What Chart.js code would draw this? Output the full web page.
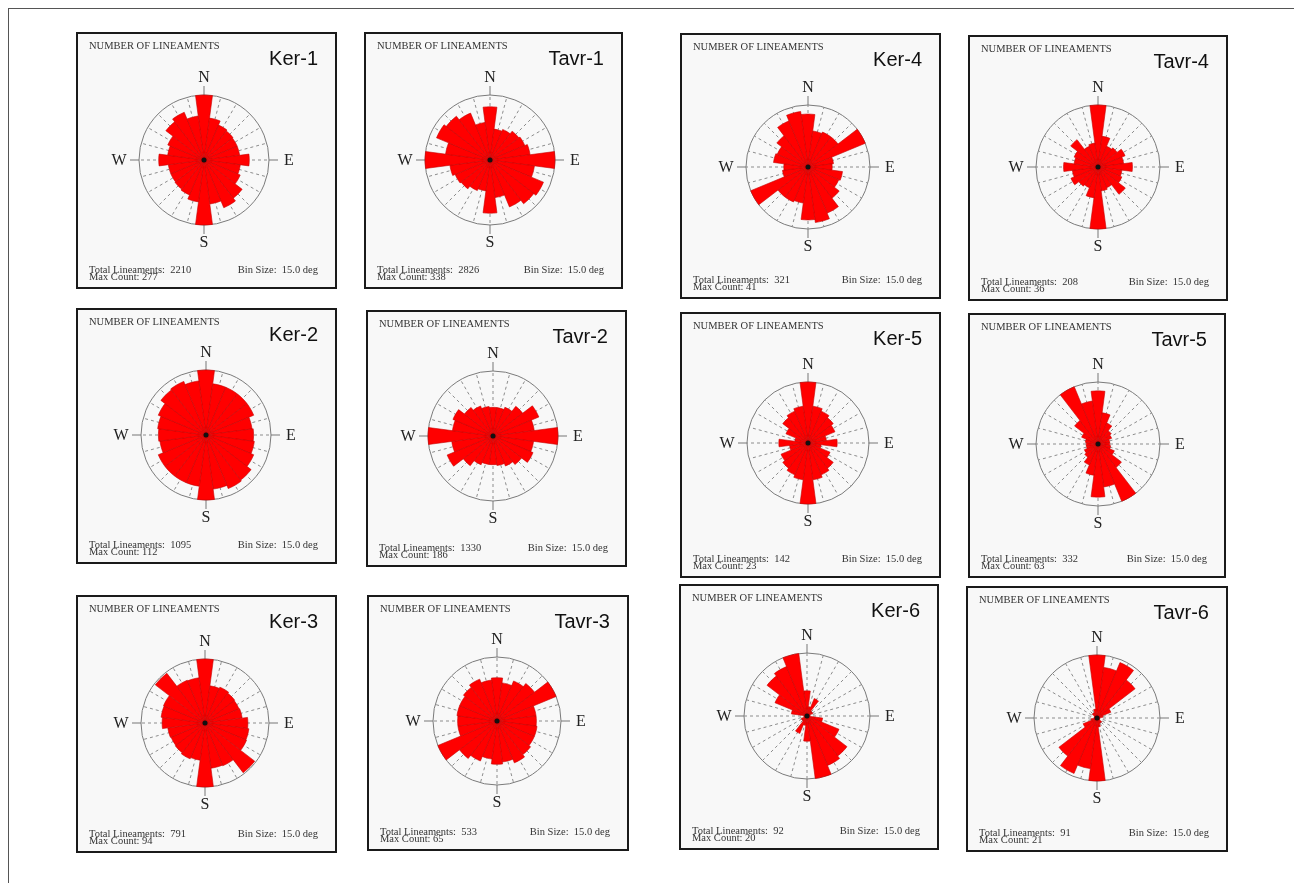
<!DOCTYPE html>
<html><head><meta charset="utf-8">
<script src="https://cdn.jsdelivr.net/npm/chart.js@4.4.1/dist/chart.umd.min.js"></script>
<style>
html,body{margin:0;padding:0;background:#fff;}
body{width:1294px;height:883px;position:relative;overflow:hidden;}
#frame{position:absolute;left:8px;top:8px;width:1310px;height:900px;border:1px solid #555;box-sizing:border-box;}
.panel{position:absolute;box-sizing:border-box;border:2px solid #1a1a1a;background:#f8f8f8;}
.panel canvas{position:absolute;left:0;top:0;}
.t{position:absolute;white-space:nowrap;font-family:"Liberation Serif","DejaVu Serif",serif;color:#333;line-height:1;}
.small{font-size:10.5px;}
.dir{font-size:16px;color:#222;transform:translate(-50%,-50%);}
.name{position:absolute;white-space:nowrap;font-family:"Liberation Sans",Arial,sans-serif;font-size:20px;line-height:1;color:#111;}
</style>
</head><body>
<div id="frame"></div>
<script>
// ---- data ----
const binAngles = [0,15,30,45,60,75,90,105,120,135,150,165,180,195,210,225,240,255,270,285,300,315,330,345];
const compassLabels = ['N','E','S','W'];
const panelNames = ['Ker-1','Tavr-1','Ker-4','Tavr-4','Ker-2','Tavr-2','Ker-5','Tavr-5','Ker-3','Tavr-3','Ker-6','Tavr-6'];
const totalLineaments = [2210,2826,321,208,1095,1330,142,332,791,533,92,91];
const maxCounts = [277,338,41,36,112,186,23,63,94,65,20,21];
const binSizeLabel = '15.0 deg';
// counts per 15-degree bin, 0..165 deg (mirrored to 180..345)
const ker1  = [277,180,161,156,153,153,193,156,167,205,220,189];
const tavr1 = [277,162,172,189,196,210,338,233,301,287,264,197];
const ker4  = [35,24,25,25,41,17,16,23,22,26,33,37];
const tavr4 = [36,18,13,14,17,15,20,14,15,20,13,14];
const ker2  = [112,89,89,89,89,80,82,84,89,98,100,94];
const tavr2 = [82,82,89,107,142,119,186,117,124,103,93,85];
const ker5  = [23,14,13,12,11,7,11,5,9,12,13,14];
const tavr5 = [54,32,23,17,15,12,12,13,18,30,63,44];
const ker3  = [94,55,57,55,54,55,63,65,66,92,68,67];
const tavr3 = [44,39,44,48,65,40,40,41,41,43,46,42];
const ker6  = [8,3,6,2,2,1,1,5,11,16,17,20];
const tavr6 = [21,17,20,16,5,2,1,1,1,2,2,3];
const seriesList = [ker1,tavr1,ker4,tavr4,ker2,tavr2,ker5,tavr5,ker3,tavr3,ker6,tavr6];

// ---- layout (panel boxes, circle centre offsets and radius) ----
const layout = [
 {L:76, T:32, W:261,H:257,ox:128,oy:128,R:65},
 {L:364,T:32, W:259,H:257,ox:126,oy:128,R:65},
 {L:680,T:33, W:261,H:266,ox:128,oy:134,R:62},
 {L:968,T:35, W:260,H:266,ox:130,oy:132,R:62},
 {L:76, T:308,W:261,H:256,ox:130,oy:127,R:65},
 {L:366,T:310,W:261,H:257,ox:127,oy:126,R:65},
 {L:680,T:312,W:261,H:266,ox:128,oy:131,R:61},
 {L:968,T:313,W:258,H:265,ox:130,oy:131,R:62},
 {L:76, T:595,W:261,H:258,ox:129,oy:128,R:64},
 {L:367,T:595,W:262,H:256,ox:130,oy:126,R:64},
 {L:679,T:584,W:260,H:266,ox:128,oy:132,R:63},
 {L:966,T:586,W:262,H:266,ox:131,oy:132,R:63}
];

const rosePlugin = {
  id:'rose',
  beforeDatasetsDraw(chart){
    const s = chart.scales.r, ctx = chart.ctx;
    const cx = s.xCenter, cy = s.yCenter, R = s.drawingArea;
    ctx.save();
    ctx.strokeStyle = '#8c8c8c'; ctx.lineWidth = 1; ctx.setLineDash([3,3]);
    binAngles.forEach(a => {
      const t = (a-90)*Math.PI/180;
      ctx.beginPath(); ctx.moveTo(cx,cy); ctx.lineTo(cx+R*Math.cos(t), cy+R*Math.sin(t)); ctx.stroke();
    });
    ctx.setLineDash([]);
    ctx.strokeStyle = '#777';
    [0,90,180,270].forEach(a => {
      const t = (a-90)*Math.PI/180;
      ctx.beginPath();
      ctx.moveTo(cx+R*Math.cos(t), cy+R*Math.sin(t));
      ctx.lineTo(cx+(R+9)*Math.cos(t), cy+(R+9)*Math.sin(t));
      ctx.stroke();
    });
    ctx.restore();
  },
  afterDatasetsDraw(chart){
    const s = chart.scales.r, ctx = chart.ctx;
    ctx.save();
    ctx.fillStyle = '#111';
    ctx.beginPath(); ctx.arc(s.xCenter, s.yCenter, 2.5, 0, Math.PI*2); ctx.fill();
    ctx.restore();
  }
};

function addText(parent, cls, text, styles){
  const d = document.createElement('div');
  d.className = cls; d.textContent = text;
  Object.assign(d.style, styles);
  parent.appendChild(d);
  return d;
}

layout.forEach((p, i) => {
  const panel = document.createElement('div');
  panel.className = 'panel';
  Object.assign(panel.style, {left:p.L+'px', top:p.T+'px', width:p.W+'px', height:p.H+'px'});
  document.body.appendChild(panel);
  const cw = p.W-4, ch = p.H-4;
  const cx = p.ox-2, cy = p.oy-2;
  const canvas = document.createElement('canvas');
  canvas.width = cw; canvas.height = ch;
  canvas.style.width = cw+'px'; canvas.style.height = ch+'px';
  panel.appendChild(canvas);

  const half = seriesList[i];
  const full = half.concat(half);
  const M = maxCounts[i];
  new Chart(canvas, {
    type:'polarArea',
    data:{
      labels: binAngles.map(a => a+'°'),
      datasets:[{data: full, backgroundColor:'#ff0000', borderColor:'#c40000', borderWidth:0.6}]
    },
    options:{
      responsive:false, animation:false, devicePixelRatio:1,
      layout:{padding:{left:cx-p.R, top:cy-p.R, right:cw-(cx+p.R), bottom:ch-(cy+p.R)}},
      plugins:{legend:{display:false}, tooltip:{enabled:false}},
      scales:{r:{
        min:0, max:M, startAngle:-7.5,
        ticks:{display:false, stepSize:M},
        grid:{color:'#7a7a7a', lineWidth:1},
        angleLines:{display:false},
        pointLabels:{display:false}
      }}
    },
    plugins:[rosePlugin]
  });

  const ax = p.L + p.ox, ay = p.T + p.oy;
  addText(document.body, 't small', 'NUMBER OF LINEAMENTS', {left:(p.L+13)+'px', top:(p.T+9)+'px'});
  addText(document.body, 'name', panelNames[i], {right:(1294-(p.L+p.W)+19)+'px', top:(p.T+16)+'px'});
  addText(document.body, 't dir', compassLabels[0], {left:ax+'px', top:(ay-p.R-18)+'px'});
  addText(document.body, 't dir', compassLabels[1], {left:(ax+p.R+20)+'px', top:ay+'px'});
  addText(document.body, 't dir', compassLabels[2], {left:ax+'px', top:(ay+p.R+17)+'px'});
  addText(document.body, 't dir', compassLabels[3], {left:(ax-p.R-20)+'px', top:ay+'px'});
  addText(document.body, 't small', 'Total Lineaments:\u00a0\u00a0' + totalLineaments[i], {left:(p.L+13)+'px', top:(p.T+p.H-24)+'px'});
  addText(document.body, 't small', 'Max Count: ' + maxCounts[i], {left:(p.L+13)+'px', top:(p.T+p.H-17)+'px'});
  addText(document.body, 't small', 'Bin Size:\u00a0\u00a0' + binSizeLabel, {right:(1294-(p.L+p.W)+19)+'px', top:(p.T+p.H-24)+'px'});
});
</script>
</body></html>
